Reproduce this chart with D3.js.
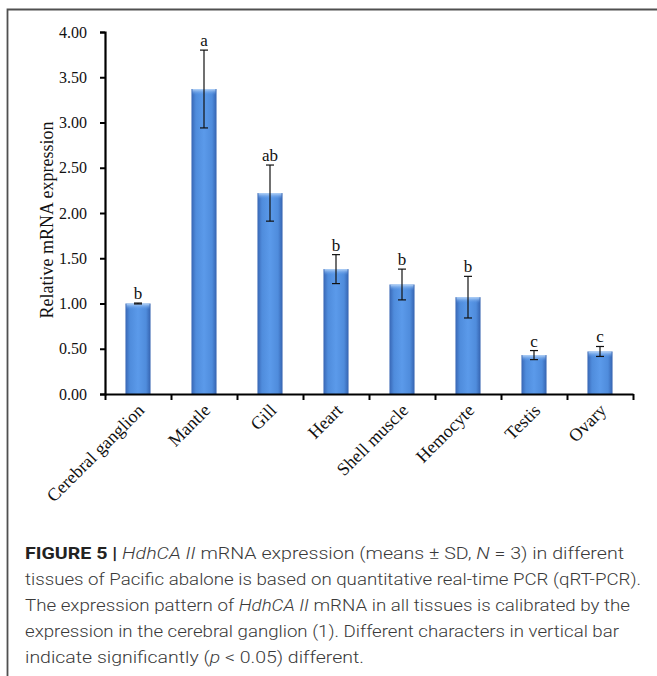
<!DOCTYPE html>
<html>
<head>
<meta charset="utf-8">
<script src="https://cdn.jsdelivr.net/npm/d3@7"></script>
<style>
  html, body { margin: 0; padding: 0; background: #fff; }
  svg { display: block; }
</style>
</head>
<body>
<script>
// ---- data ----
const categories = ["Cerebral ganglion", "Mantle", "Gill", "Heart", "Shell muscle", "Hemocyte", "Testis", "Ovary"];
const means = [1.00, 3.37, 2.22, 1.38, 1.21, 1.07, 0.43, 0.47];
const sds = [0.005, 0.43, 0.31, 0.16, 0.17, 0.23, 0.05, 0.055];
const letters = ["b", "a", "ab", "b", "b", "b", "c", "c"];
const yTicks = [0, 0.5, 1, 1.5, 2, 2.5, 3, 3.5, 4];
const yTitle = "Relative mRNA expression";
const captionLines = [
  [{t: "FIGURE 5 | ", b: true}, {t: "HdhCA II", i: true}, {t: " mRNA expression (means \u00B1 SD, "}, {t: "N", i: true}, {t: " = 3) in different"}],
  [{t: "tissues of Pacific abalone is based on quantitative real-time PCR (qRT-PCR)."}],
  [{t: "The expression pattern of "}, {t: "HdhCA II", i: true}, {t: " mRNA in all tissues is calibrated by the"}],
  [{t: "expression in the cerebral ganglion (1). Different characters in vertical bar"}],
  [{t: "indicate significantly ("}, {t: "p", i: true}, {t: " < 0.05) different."}]
];
const captionWidths = [599, 616, 605, 594, 339];

// ---- layout ----
const W = 657, H = 676;
const svg = d3.select("body").append("svg").attr("width", W).attr("height", H);
svg.append("rect").attr("width", W).attr("height", H).attr("fill", "#fff");

// frame
svg.append("path")
  .attr("d", `M7.5,${H + 2} L7.5,9.5 L${W + 2},9.5`)
  .attr("fill", "none").attr("stroke", "#505050").attr("stroke-width", 1.8);

const x0 = 105, x1 = 633, yTop = 32, yBot = 394;
const x = d3.scaleBand().domain(categories).range([x0, x1]).paddingInner(0.62).paddingOuter(0.31);
const y = d3.scaleLinear().domain([0, 4]).range([yBot, yTop]);

const defs = svg.append("defs");
const g1 = defs.append("linearGradient").attr("id", "barGrad").attr("x1", "0").attr("x2", "1").attr("y1", "0").attr("y2", "0");
[["0%", "#3866b4"], ["18%", "#4f8cdc"], ["50%", "#5b9aea"], ["82%", "#4f8cdc"], ["100%", "#3563b0"]]
  .forEach(([o, c]) => g1.append("stop").attr("offset", o).attr("stop-color", c));
const g2 = defs.append("linearGradient").attr("id", "capGrad").attr("x1", "0").attr("x2", "0").attr("y1", "0").attr("y2", "1");
[["0%", "#b9d6f8", 1], ["100%", "#5a96e6", 0]]
  .forEach(([o, c, op]) => g2.append("stop").attr("offset", o).attr("stop-color", c).attr("stop-opacity", op));

// bars
const bars = svg.append("g");
categories.forEach((c, i) => {
  const bx = x(c), bw = x.bandwidth(), by = y(means[i]);
  bars.append("rect").attr("x", bx).attr("y", by).attr("width", bw).attr("height", yBot - by).attr("fill", "url(#barGrad)");
  bars.append("rect").attr("x", bx + 1).attr("y", by).attr("width", bw - 2).attr("height", 6).attr("fill", "url(#capGrad)");
});

// error bars
const eb = svg.append("g").attr("stroke", "#111").attr("stroke-width", 1.2);
categories.forEach((c, i) => {
  const cx = x(c) + x.bandwidth() / 2;
  const hi = y(means[i] + sds[i]), lo = y(means[i] - sds[i]);
  eb.append("line").attr("x1", cx).attr("x2", cx).attr("y1", hi).attr("y2", lo);
  eb.append("line").attr("x1", cx - 4).attr("x2", cx + 4).attr("y1", hi).attr("y2", hi);
  eb.append("line").attr("x1", cx - 4).attr("x2", cx + 4).attr("y1", lo).attr("y2", lo);
});

// letters
svg.append("g").selectAll("text").data(categories).join("text")
  .attr("x", c => x(c) + x.bandwidth() / 2)
  .attr("y", (c, i) => y(means[i] + sds[i]) - 4)
  .attr("text-anchor", "middle")
  .attr("font-family", "'Liberation Serif', 'Times New Roman', serif")
  .attr("font-size", 17).attr("fill", "#111")
  .text((c, i) => letters[i]);

// y axis
const yAxis = svg.append("g").attr("transform", `translate(${x0},0)`)
  .call(d3.axisLeft(y).tickValues(yTicks).tickFormat(d3.format(".2f")).tickSizeOuter(0).tickSize(5).tickPadding(13));
yAxis.select(".domain").attr("stroke", "#000").attr("stroke-width", 2.2);
yAxis.selectAll(".tick line").attr("stroke", "#000").attr("stroke-width", 2);
yAxis.selectAll(".tick text").attr("font-family", "'Liberation Serif', 'Times New Roman', serif").attr("font-size", 16).attr("fill", "#111");

// x axis (ticks at category boundaries)
const xb = d3.scaleLinear().domain([0, categories.length]).range([x0, x1]);
const xAxis = svg.append("g").attr("transform", `translate(0,${yBot})`)
  .call(d3.axisBottom(xb).tickValues(d3.range(categories.length + 1)).tickFormat("").tickSize(6).tickSizeOuter(0));
xAxis.select(".domain").attr("stroke", "#000").attr("stroke-width", 2.2);
xAxis.selectAll(".tick line").attr("stroke", "#000").attr("stroke-width", 2);

// x labels
svg.append("g").selectAll("text").data(categories).join("text")
  .attr("transform", c => `translate(${x(c) + x.bandwidth() / 2 + 3},${yBot + 13}) rotate(-45)`)
  .attr("text-anchor", "end")
  .attr("dy", "0.35em")
  .attr("font-family", "'Liberation Serif', 'Times New Roman', serif")
  .attr("font-size", 18).attr("fill", "#111")
  .text(c => c);

// y title
svg.append("text")
  .attr("transform", `translate(47,${(yTop + yBot) / 2 + 7}) rotate(-90)`)
  .attr("text-anchor", "middle").attr("dy", "0.35em")
  .attr("font-family", "'Liberation Serif', 'Times New Roman', serif")
  .attr("font-size", 18).attr("fill", "#111")
  .text(yTitle);

// caption
const cap = svg.append("g");
captionLines.forEach((line, li) => {
  const t = cap.append("text")
    .attr("x", 25).attr("y", 559 + li * 26)
    .attr("font-family", "Roboto, 'Liberation Sans', Arial, sans-serif")
    .attr("font-weight", 300)
    .attr("font-size", 17).attr("fill", "#3a3a3a")
    .attr("textLength", captionWidths[li]).attr("lengthAdjust", "spacingAndGlyphs");
  line.forEach(s => {
    const ts = t.append("tspan").text(s.t);
    if (s.b) ts.attr("font-weight", "bold").attr("fill", "#222");
    if (s.i) ts.attr("font-style", "italic");
  });
});
</script>
</body>
</html>
